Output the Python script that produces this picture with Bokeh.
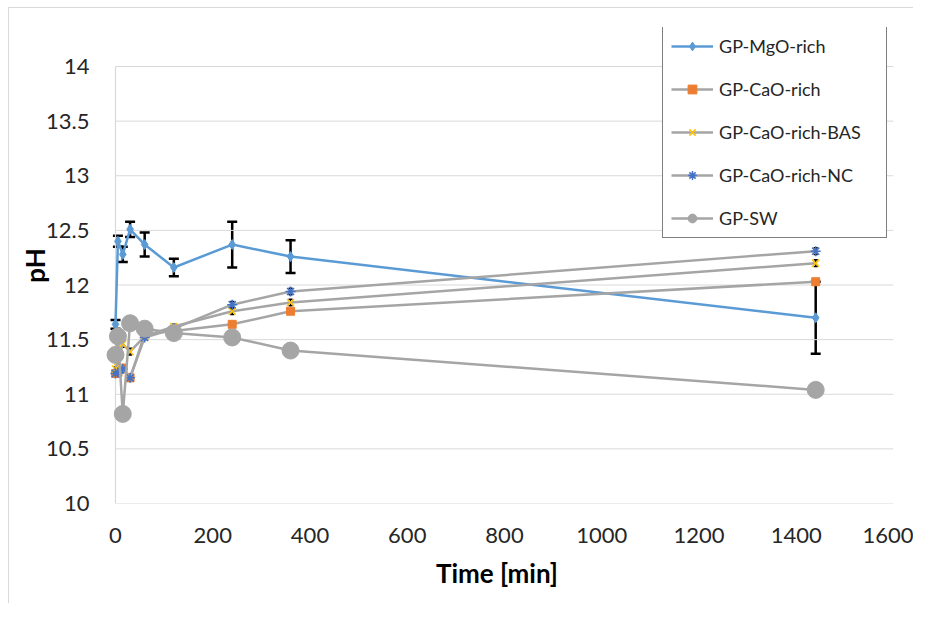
from bokeh.plotting import figure
from bokeh.models import (ColumnDataSource, Whisker, TeeHead, Legend, LegendItem,
                          FixedTicker)
from bokeh.embed import file_html
from bokeh.resources import INLINE

# ---- data ----
time_min = [0, 5, 15, 30, 60, 120, 240, 360, 1440]
mgo_rich = [11.64, 12.40, 12.28, 12.51, 12.37, 12.16, 12.37, 12.26, 11.70]
mgo_err = [0.04, 0.05, 0.07, 0.07, 0.11, 0.08, 0.21, 0.15, 0.33]
cao_rich = [11.19, 11.20, 11.24, 11.15, 11.55, 11.58, 11.64, 11.76, 12.03]
cao_err = [0.02, 0.02, 0.02, 0.02, 0.02, 0.02, 0.02, 0.02, 0.02]
cao_bas = [11.23, 11.30, 11.46, 11.39, 11.53, 11.62, 11.76, 11.84, 12.20]
bas_err = [0.02, 0.02, 0.03, 0.03, 0.02, 0.02, 0.03, 0.03, 0.03]
cao_nc = [11.19, 11.20, 11.23, 11.15, 11.52, 11.60, 11.82, 11.94, 12.31]
nc_err = [0.02, 0.02, 0.03, 0.03, 0.02, 0.02, 0.03, 0.03, 0.03]
gp_sw = [11.36, 11.53, 10.82, 11.65, 11.60, 11.56, 11.52, 11.40, 11.04]

x_ticks = [0, 200, 400, 600, 800, 1000, 1200, 1400, 1600]
y_ticks = [10, 10.5, 11, 11.5, 12, 12.5, 13, 13.5, 14]
y_tick_labels = ["10", "10.5", "11", "11.5", "12", "12.5", "13", "13.5", "14"]

FONT = "Lato"
BLUE = "#5B9BD5"
ORANGE = "#ED7D31"
GREY = "#A5A5A5"
YELLOW = "#FFC000"
DBLUE = "#4472C4"
GRID = "#D9D9D9"

# extra room left of 0 (so markers at t=0 are not clipped) and above 14 (legend)
X_LEFT = x_ticks[0] - 15 / 0.4862
Y_TOP = y_ticks[-1] + 39 / 109.25

p = figure(width=913, height=603, x_range=(X_LEFT, x_ticks[-1]),
           y_range=(y_ticks[0], Y_TOP),
           output_backend="svg", toolbar_location=None,
           min_border_left=100, min_border_right=20,
           min_border_top=27, min_border_bottom=100)
p.outline_line_color = None
p.background_fill_color = "white"
p.border_fill_color = None
p.styles = {
    "background": ("linear-gradient(#D9D9D9, #D9D9D9) 8px 7px / 1px 100% no-repeat, "
                   "linear-gradient(#D9D9D9, #D9D9D9) 8px 7px / 100% 1px no-repeat, "
                   "white")
}

# axes
p.xaxis.ticker = FixedTicker(ticks=x_ticks)
p.yaxis.ticker = FixedTicker(ticks=y_ticks)
p.yaxis.major_label_overrides = {t: l for t, l in zip(y_ticks, y_tick_labels)}
for ax in (p.xaxis, p.yaxis):
    ax.major_tick_line_color = None
    ax.minor_tick_line_color = None
    ax.major_tick_out = 0
    ax.major_tick_in = 0
    ax.minor_tick_out = 0
    ax.minor_tick_in = 0
    ax.axis_line_color = None
    ax.major_label_text_font = FONT
    ax.major_label_text_font_size = "22px"
    ax.major_label_text_color = "#262626"
    ax.axis_label_text_font = FONT
    ax.axis_label_text_font_style = "bold"
    ax.axis_label_text_font_size = "26px"
    ax.axis_label_text_color = "#000000"
p.xaxis.major_label_standoff = 24
p.yaxis.major_label_standoff = 11
p.xaxis.axis_label = "Time [min]"
p.yaxis.axis_label = "pH"
p.xaxis.axis_label_standoff = 11
p.yaxis.axis_label_standoff = -8

p.xgrid.grid_line_color = None
p.ygrid.grid_line_color = None

# horizontal gridlines and vertical axis line spanning the tick range only
p.segment(x0=[x_ticks[0]] * len(y_ticks), x1=[x_ticks[-1]] * len(y_ticks),
          y0=y_ticks, y1=y_ticks, line_color=GRID, line_width=1)
p.segment(x0=[x_ticks[0]], x1=[x_ticks[0]], y0=[y_ticks[0]], y1=[y_ticks[-1]],
          line_color=GRID, line_width=1.2)


def add_whisker(values, errs, width=2.5, size=10):
    src = ColumnDataSource(dict(x=time_min,
                                lo=[v - e for v, e in zip(values, errs)],
                                hi=[v + e for v, e in zip(values, errs)]))
    w = Whisker(source=src, base="x", lower="lo", upper="hi", dimension="height",
                line_color="black", line_width=width,
                lower_head=TeeHead(size=size, line_color="black", line_width=width),
                upper_head=TeeHead(size=size, line_color="black", line_width=width))
    p.add_layout(w)


items = []

# GP-MgO-rich
src = ColumnDataSource(dict(x=time_min, y=mgo_rich))
l1 = p.line("x", "y", source=src, line_color=BLUE, line_width=2.5)
m1 = p.scatter("x", "y", source=src, marker="diamond", size=10,
               fill_color=BLUE, line_color=BLUE)
add_whisker(mgo_rich, mgo_err)
items.append(LegendItem(label="GP-MgO-rich", renderers=[l1, m1]))

# GP-CaO-rich
src = ColumnDataSource(dict(x=time_min, y=cao_rich))
l2 = p.line("x", "y", source=src, line_color=GREY, line_width=2.5)
m2 = p.scatter("x", "y", source=src, marker="square", size=8,
               fill_color=ORANGE, line_color=ORANGE)
add_whisker(cao_rich, cao_err, width=1.5, size=4)
items.append(LegendItem(label="GP-CaO-rich", renderers=[l2, m2]))

# GP-CaO-rich-BAS
src = ColumnDataSource(dict(x=time_min, y=cao_bas))
l3 = p.line("x", "y", source=src, line_color=GREY, line_width=2.5)
m3 = p.scatter("x", "y", source=src, marker="x", size=10,
               line_color=YELLOW, line_width=1.5)
add_whisker(cao_bas, bas_err, width=1.5, size=4)
items.append(LegendItem(label="GP-CaO-rich-BAS", renderers=[l3, m3]))

# GP-CaO-rich-NC
src = ColumnDataSource(dict(x=time_min, y=cao_nc))
l4 = p.line("x", "y", source=src, line_color=GREY, line_width=2.5)
m4 = p.scatter("x", "y", source=src, marker="asterisk", size=10,
               line_color=DBLUE, line_width=1.5)
add_whisker(cao_nc, nc_err, width=1.5, size=4)
items.append(LegendItem(label="GP-CaO-rich-NC", renderers=[l4, m4]))

# GP-SW
src = ColumnDataSource(dict(x=time_min, y=gp_sw))
l5 = p.line("x", "y", source=src, line_color=GREY, line_width=2.5)
m5 = p.scatter("x", "y", source=src, marker="circle", size=17,
               fill_color=GREY, line_color=GREY)
items.append(LegendItem(label="GP-SW", renderers=[l5, m5]))

legend = Legend(items=items, location=(562, 265), margin=0, padding=8,
                spacing=21, label_height=22, glyph_height=22, glyph_width=42,
                label_standoff=6, label_width=159,
                label_text_font=FONT, label_text_font_size="18px",
                label_text_color="#262626",
                border_line_color="black", border_line_width=1.5,
                background_fill_color="white", background_fill_alpha=1.0)
p.add_layout(legend, "center")

open("out.html", "w").write(file_html(p, INLINE))
